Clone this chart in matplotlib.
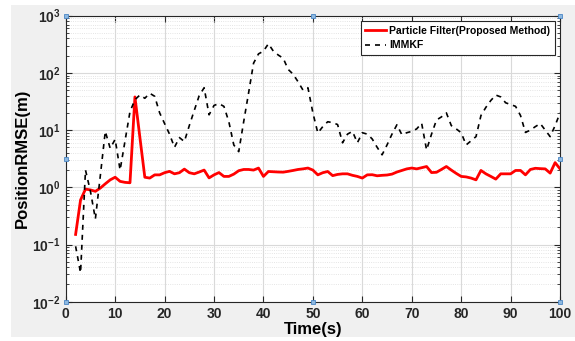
import matplotlib
matplotlib.use('Agg')
import matplotlib.pyplot as plt
import matplotlib.ticker as mtick
from matplotlib.patches import Rectangle
import numpy as np

plt.rcParams['font.family'] = ['Liberation Sans', 'DejaVu Sans']
plt.rcParams['mathtext.fontset'] = 'custom'
plt.rcParams['mathtext.bf'] = 'Liberation Sans:bold'
plt.rcParams['mathtext.rm'] = 'Liberation Sans:bold'

time_s = list(range(2, 101))

pf_rmse = [0.15, 0.6, 0.93, 0.9, 0.85, 0.97, 1.15, 1.35, 1.5, 1.27,
           1.22, 1.2, 38, 7.5, 1.5, 1.45, 1.65, 1.65, 1.8, 1.9,
           1.72, 1.8, 2.08, 1.8, 1.72, 1.85, 2.0, 1.46, 1.65, 1.81,
           1.55, 1.55, 1.7, 1.95, 2.05, 2.05, 2.0, 2.17, 1.55, 1.89,
           1.87, 1.85, 1.84, 1.9, 1.97, 2.05, 2.1, 2.17, 2.0, 1.65,
           1.8, 1.89, 1.6, 1.68, 1.72, 1.72, 1.62, 1.55, 1.45, 1.65,
           1.66, 1.59, 1.62, 1.64, 1.7, 1.85, 1.97, 2.1, 2.17, 2.1,
           2.2, 2.31, 1.81, 1.83, 2.05, 2.31, 2.0, 1.75, 1.55, 1.52,
           1.45, 1.35, 1.97, 1.72, 1.55, 1.39, 1.72, 1.72, 1.72, 1.97,
           1.97, 1.65, 2.05, 2.15, 2.12, 2.1, 1.77, 2.7, 2.1]

immkf_rmse = [0.093, 0.032, 2.0, 0.85, 0.28, 1.6, 9.5, 4.8, 6.9, 2.0,
              6.5, 21, 34, 41, 36, 44, 39, 20, 13, 8.5,
              5.0, 7.4, 6.3, 12, 22, 40, 55, 18.5, 27, 29,
              26, 14, 5.5, 4.2, 14, 45, 148, 215, 240, 323,
              240, 205, 180, 115, 95, 70, 50, 55, 20, 8.9,
              11.5, 14, 13.5, 12.5, 6, 8.5, 9.5, 6, 9, 8.5,
              7, 5, 3.7, 5.5, 8.5, 12.4, 8.3, 9, 9.5, 10.5,
              13.2, 4.5, 8.5, 15, 17, 20, 12, 10.5, 9, 5.5,
              6.5, 7.7, 18, 25, 33, 41, 38, 30, 28, 26,
              18, 9.1, 10, 11.5, 13, 10, 7.7, 12, 20]

x_ticks = list(range(0, 101, 10))
y_ticks = [1e-2, 1e-1, 1e0, 1e1, 1e2, 1e3]
y_labels = [r'$\mathbf{10^{-2}}$', r'$\mathbf{10^{-1}}$', r'$\mathbf{10^{0}}$',
            r'$\mathbf{10^{1}}$', r'$\mathbf{10^{2}}$', r'$\mathbf{10^{3}}$']

fig = plt.figure(figsize=(5.75, 3.41), dpi=100, facecolor='white')
# grey MATLAB figure window background
fig.patches.append(Rectangle((0.019, 0.012), 0.981, 0.974, transform=fig.transFigure,
                             facecolor='#f0f0f0', edgecolor='none', zorder=-10))

ax = fig.add_axes([0.1143, 0.1152, 0.8597, 0.8388])
ax.set_facecolor('white')

ax.semilogy(time_s, pf_rmse, color='#ff0000', lw=2.0,
            label='Particle Filter(Proposed Method)')
ax.semilogy(time_s, immkf_rmse, color='black', lw=1.2, ls=(0, (3, 3)),
            label='IMMKF')

ax.set_xlim(0, 100)
ax.set_ylim(1e-2, 1e3)
ax.set_xticks(x_ticks)
ax.set_xticklabels([str(v) for v in x_ticks], fontweight='bold', fontsize=10)
ax.set_yticks(y_ticks)
ax.set_yticklabels(y_labels, fontsize=10)
ax.yaxis.set_minor_locator(mtick.LogLocator(base=10, subs=np.arange(2, 10), numticks=20))
ax.yaxis.set_minor_formatter(mtick.NullFormatter())

ax.grid(True, which='major', color='#d9d9d9', lw=0.8)
ax.grid(True, which='minor', axis='y', color='#dcdcdc', lw=0.6, ls=':')
ax.tick_params(which='both', direction='in', top=True, right=True, colors='#262626')
ax.tick_params(which='major', length=4)
ax.tick_params(which='minor', length=2)
for sp in ax.spines.values():
    sp.set_color('#262626')
    sp.set_linewidth(0.8)

ax.set_xlabel('Time(s)', fontweight='bold', fontsize=12, labelpad=1)
ax.set_ylabel('PositionRMSE(m)', fontweight='bold', fontsize=12, labelpad=2)

leg = ax.legend(loc='upper right', prop={'weight': 'bold', 'size': 7.5},
                fancybox=False, framealpha=1, edgecolor='#262626',
                handlelength=2.0, borderaxespad=0.5, borderpad=0.45,
                labelspacing=0.45, handletextpad=0.3)
leg.get_frame().set_linewidth(0.8)

# MATLAB edit-mode handles on the axes box
hx = [0, 0, 0, 0.5, 0.5, 1, 1, 1]
hy = [0, 0.5, 1, 0, 1, 0, 0.5, 1]
ax.plot(hx, hy, ls='none', marker='s', ms=3.5, mfc='#8db8e0', mec='#4a86c5',
        mew=0.6, transform=ax.transAxes, clip_on=False, zorder=5)

fig.savefig('out.png', dpi=100, facecolor=fig.get_facecolor())
